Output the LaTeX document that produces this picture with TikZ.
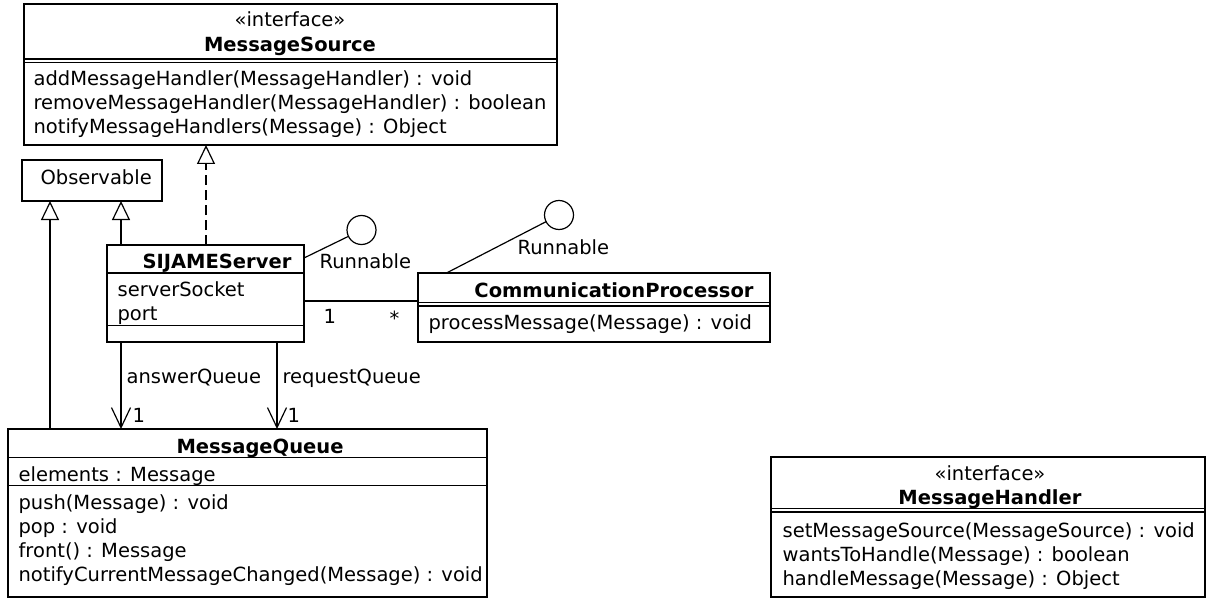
\documentclass[tikz,border=0pt]{standalone}
\usepackage{fontspec}
\setmainfont{DejaVu Sans}
\usetikzlibrary{arrows.meta,calc}
\begin{document}
\begin{tikzpicture}[x=1pt,y=-1pt,
  font=\fontsize{19.5}{22}\selectfont, line width=1.2pt,
  box/.style={draw, line width=1.2pt, anchor=north west, inner sep=0pt, outer sep=0pt},
  txt/.style={anchor=base west, inner sep=0pt},
  ctxt/.style={anchor=base, inner sep=0pt},
  bold/.style={font=\fontsize{19.5}{22}\selectfont\bfseries},
  gen/.style={-{Triangle[open,length=19pt,width=18pt]}},
  real/.style={gen, dash pattern=on 10pt off 5pt},
  nav/.style={-{Straight Barb[length=20pt,width=19pt]}},
  lolli/.style={draw, circle, minimum size=29pt, inner sep=0pt, outer sep=0pt}]
\useasboundingbox (0,0) rectangle (1208,599);

% MessageSource
\node[box, minimum width=533pt, minimum height=141pt] (ms) at (24,4) {};
\node[ctxt] (msst) at (290,27) {«interface»};
\node[ctxt, bold] (msn) at (290,52) {MessageSource};
\draw (24,59) -- (557,59);
\draw (24,62.5) -- (557,62.5);
\node[txt] (msm1) at (33,86) {addMessageHandler(MessageHandler) : void};
\node[txt] (msm2) at (33,110) {removeMessageHandler(MessageHandler) : boolean};
\node[txt] (msm3) at (33,134) {notifyMessageHandlers(Message) : Object};

% Observable
\node[box, minimum width=140pt, minimum height=41pt] (obs) at (22,160) {};
\node[txt] (obsn) at (40,185) {Observable};

% SIJAMEServer
\node[box, minimum width=197pt, minimum height=97pt] (srv) at (107,245) {};
\node[ctxt, bold] (srvn) at (217,268) {SIJAMEServer};
\draw (107,273) -- (304,273);
\draw (107,325.5) -- (304,325.5);
\node[txt] (srva1) at (117,296) {serverSocket};
\node[txt] (srva2) at (117,320) {port};

% CommunicationProcessor
\node[box, minimum width=352pt, minimum height=69pt] (cp) at (418,273) {};
\node[ctxt, bold] (cpn) at (614,297) {CommunicationProcessor};
\draw (418,302.5) -- (770,302.5);
\draw (418,306) -- (770,306);
\node[txt] (cpm1) at (428,329) {processMessage(Message) : void};

% MessageQueue
\node[box, minimum width=479pt, minimum height=168pt] (mq) at (8,429) {};
\node[ctxt, bold] (mqn) at (260,453) {MessageQueue};
\draw (8,457.5) -- (487,457.5);
\draw (8,485.5) -- (487,485.5);
\node[txt] (mqa1) at (18,481) {elements : Message};
\node[txt] (mqm1) at (18,509) {push(Message) : void};
\node[txt] (mqm2) at (18,533) {pop : void};
\node[txt] (mqm3) at (18,557) {front() : Message};
\node[txt] (mqm4) at (18,581.5) {notifyCurrentMessageChanged(Message) : void};

% MessageHandler
\node[box, minimum width=434pt, minimum height=140pt] (mh) at (771,457) {};
\node[ctxt] (mhst) at (990,480) {«interface»};
\node[ctxt, bold] (mhn) at (990,504) {MessageHandler};
\draw (771,508.5) -- (1205,508.5);
\draw (771,512) -- (1205,512);
\node[txt] (mhm1) at (782,537) {setMessageSource(MessageSource) : void};
\node[txt] (mhm2) at (782,561) {wantsToHandle(Message) : boolean};
\node[txt] (mhm3) at (782,585) {handleMessage(Message) : Object};

% Interfaces (lollipops)
\node[lolli] (if1) at (361.5,230) {};
\node[lolli] (if2) at (559,215) {};
\node[txt] (if1l) at (319,268) {Runnable};
\node[txt] (if2l) at (517,254) {Runnable};
\draw ($(srv.north east)+(0,13)$) -- (if1);
\draw ($(cp.north west)+(28.5,0)$) -- (if2);

% Realization and generalizations
\draw[real] ($(srv.north west)+(99,0)$) -- ($(ms.south west)+(182,0)$);
\draw[gen] ($(srv.north west)+(14,0)$) -- ($(obs.south west)+(99,0)$);
\draw[gen] ($(mq.north west)+(42,0)$) -- ($(obs.south west)+(28,0)$);

% Association
\draw ($(srv.north east)+(0,56)$) -- ($(cp.north west)+(0,28)$);
\node[txt] (m1) at (323,323) {1};
\node[txt] (m2) at (389,325) {*};

% Navigable associations
\draw[nav] ($(srv.south west)+(14,0)$) -- ($(mq.north west)+(113,0)$);
\draw[nav] ($(srv.south west)+(170,0)$) -- ($(mq.north west)+(269,0)$);
\node[txt] (aql) at (126,383) {answerQueue};
\node[txt] (rql) at (282,383) {requestQueue};
\node[txt] (aqm) at (132,422) {1};
\node[txt] (rqm) at (287,422) {1};
\end{tikzpicture}
\end{document}
